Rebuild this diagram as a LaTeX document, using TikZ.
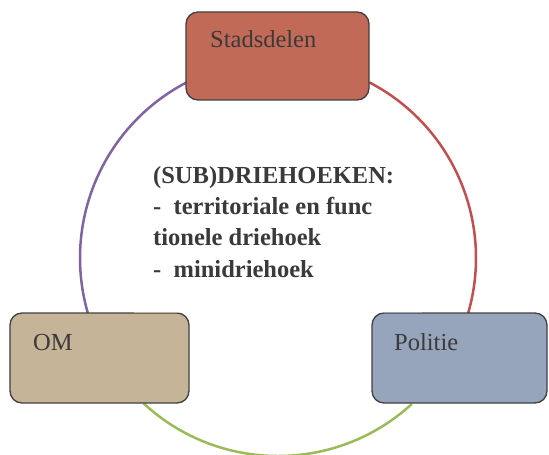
\documentclass[tikz,border=0pt]{standalone}
\usepackage{fontspec}
\setmainfont{Liberation Serif}
\usetikzlibrary{calc}
\definecolor{stadfill}{RGB}{194,106,88}
\definecolor{omfill}{RGB}{197,180,152}
\definecolor{polfill}{RGB}{150,164,188}
\definecolor{boxline}{RGB}{64,64,64}
\definecolor{txt}{RGB}{58,58,58}
\definecolor{arcpurple}{RGB}{128,100,162}
\definecolor{arcred}{RGB}{192,80,77}
\definecolor{arcgreen}{RGB}{155,187,89}
\begin{document}
\begin{tikzpicture}[x=1bp,y=-1bp,
  partybox/.style={draw=boxline, line width=1.3bp, rounded corners=12bp,
    inner sep=0pt, minimum width=#1},
  partylabel/.style={anchor=base west, inner sep=0pt, text=txt,
    font=\fontsize{24.5bp}{30bp}\selectfont},
  ring/.style={line width=2.5bp},
  gapfix/.style={line width=1.4bp}
]
\useasboundingbox (0,0) rectangle (549,455);

% ring of three arcs between the partners
\coordinate (centre) at (278,258);
\coordinate (stadL) at (186.6,82.4);
\coordinate (stadR) at (369.4,82.4);
\coordinate (omB)   at (143.5,403.3);
\draw[ring, arcpurple] (stadL) arc[start angle=-117.5, end angle=-196.1, radius=198];
\draw[ring, arcred]    (stadR) arc[start angle=-62.5, end angle=16.1, radius=198];
\draw[ring, arcgreen]  (omB)   arc[start angle=132.8, end angle=47.5, radius=198];

% partner boxes
\node[partybox=183bp, fill=stadfill, minimum height=88bp] (stad) at (277.5,56) {};
\node[partybox=179bp, fill=omfill,   minimum height=90bp] (om)   at (99.5,358) {};
\node[partybox=175bp, fill=polfill,  minimum height=90bp] (pol)  at (459.5,358) {};

% open stretches in the top borders
\draw[gapfix, omfill]  ($(om.north west)+(125,0.3)$) -- ($(om.north east)+(-12,0.3)$);
\draw[gapfix, polfill] ($(pol.north west)+(12,0.3)$) -- ($(pol.north west)+(51,0.3)$);

% labels
\node[partylabel] (stadtxt) at (210,48) {Stadsdelen};
\node[partylabel] (omtxt)   at (33,350) {OM};
\node[partylabel] (poltxt)  at (394,350) {Politie};

% centre text; the base anchor sits on the last line
\node[anchor=base west, inner sep=0pt, text=txt, align=left,
      font=\fontsize{24.5bp}{31bp}\selectfont\bfseries] (kern) at (153,277)
  {(SUB)DRIEHOEKEN:\\
   -\ \ territoriale en func\\
   tionele driehoek\\
   -\ \ minidriehoek};
\end{tikzpicture}
\end{document}
